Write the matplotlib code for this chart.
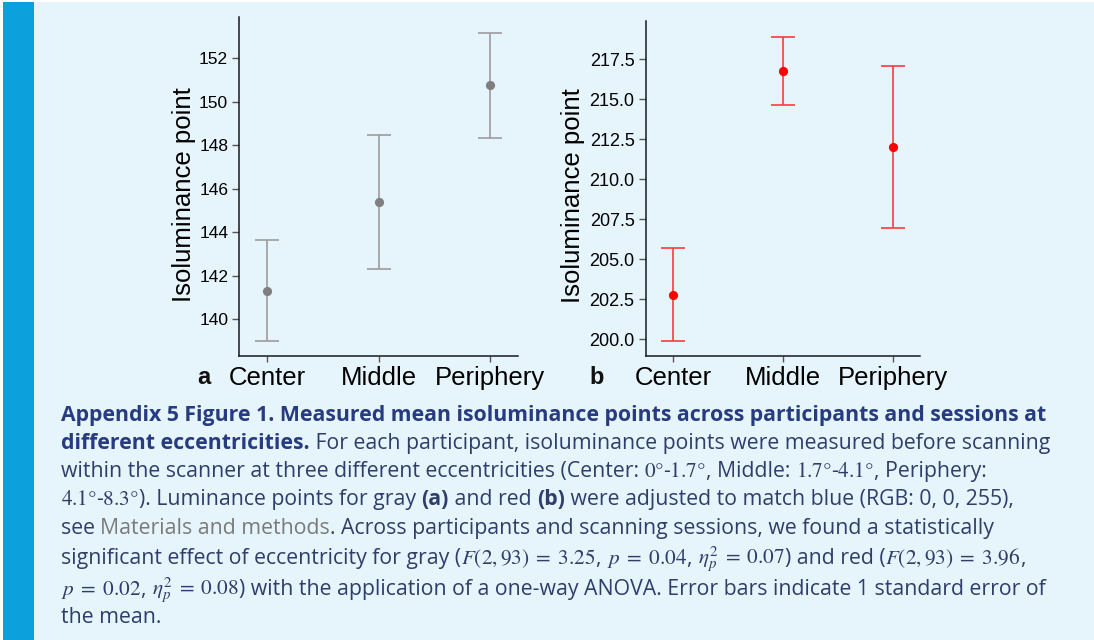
import matplotlib
matplotlib.use('Agg')
import matplotlib.pyplot as plt
from matplotlib.patches import Rectangle

# ---------------- data ----------------
categories = ['Center', 'Middle', 'Periphery']
gray_mean = [141.30, 145.38, 150.76]
gray_lo = [139.02, 142.30, 148.35]
gray_hi = [143.63, 148.47, 153.18]
red_mean = [202.77, 216.79, 212.02]
red_lo = [199.89, 214.66, 206.96]
red_hi = [205.69, 218.92, 217.07]
gray_yticks = [140, 142, 144, 146, 148, 150, 152]
red_yticks = [200.0, 202.5, 205.0, 207.5, 210.0, 212.5, 215.0, 217.5]

W, H = 1094, 640
plt.rcParams['font.family'] = ['Liberation Sans', 'DejaVu Sans']
plt.rcParams['mathtext.fontset'] = 'stix'

fig = plt.figure(figsize=(W / 100, H / 100), dpi=100, facecolor='white')
BG = '#e6f4fc'
fig.patches.append(Rectangle((3 / W, 0), 1, 638 / H, transform=fig.transFigure,
                             facecolor=BG, edgecolor='none', zorder=-10))
fig.patches.append(Rectangle((3 / W, 0), 31 / W, 638 / H, transform=fig.transFigure,
                             facecolor='#0ca0dc', edgecolor='none', zorder=-9))


def px_axes(l, t, r, b):
    return fig.add_axes([l / W, 1 - b / H, (r - l) / W, (b - t) / H])


def style(ax, ylim, yticks, fmt, ytick_fs, label_xy):
    ax.set_facecolor('none')
    for s in ['top', 'right']:
        ax.spines[s].set_visible(False)
    for s in ['left', 'bottom']:
        ax.spines[s].set_linewidth(1.1)
        ax.spines[s].set_color('#1a1a1a')
    ax.set_xlim(-0.25, 2.25)
    ax.set_ylim(*ylim)
    ax.set_yticks(yticks)
    ax.set_yticklabels([fmt.format(v) for v in yticks], fontsize=ytick_fs)
    ax.set_xticks(range(len(categories)))
    ax.set_xticklabels(categories, fontsize=18.5)
    ax.tick_params(axis='y', length=5, width=1.0, color='#555555', pad=3)
    ax.tick_params(axis='x', length=4.5, width=1.0, color='#555555', pad=3)
    ax.set_ylabel('Isoluminance point', fontsize=18.5)
    ax.yaxis.set_label_coords(*label_xy)


def draw(ax, mean, lo, hi, lc, mc):
    x = list(range(len(mean)))
    yerr = [[m - l for m, l in zip(mean, lo)], [h - m for m, h in zip(mean, hi)]]
    ax.errorbar(x, mean, yerr=yerr, fmt='none', ecolor=lc, elinewidth=1.2,
                capsize=8.7, capthick=1.2)
    ax.plot(x, mean, 'o', color=mc, markersize=6.6, markeredgewidth=0, zorder=5)


axa = px_axes(239.3, 16.7, 518.3, 356)
draw(axa, gray_mean, gray_lo, gray_hi, '#9c9c9c', '#7f7f7f')
style(axa, (138.31, 153.91), gray_yticks, '{:d}', 12.5, (-0.155, 0.475))

axb = px_axes(645.7, 21, 920, 356)
draw(axb, red_mean, red_lo, red_hi, '#ff3b3b', '#ff0000')
style(axb, (198.94, 219.9), red_yticks, '{:.1f}', 13, (-0.221, 0.48))

fig.text(197 / W, 1 - 384 / H, 'a', fontsize=17, fontweight='bold', color='#111111')
fig.text(589 / W, 1 - 384 / H, 'b', fontsize=17, fontweight='bold', color='#111111')

# ---------------- caption ----------------
CAP_FONT = ['Open Sans', 'Noto Sans', 'DejaVu Sans']
FS = 15.3
BOLD_C = '#273b81'
BODY_C = '#2f3d6b'
LINK_C = '#7a7a7a'

B = dict(fontweight='bold', color=BOLD_C)
N = dict(color=BODY_C)
L = dict(color=LINK_C)
NB = dict(fontweight='bold', color=BODY_C)

lines = [
    (421, [('Appendix 5 Figure 1. Measured mean isoluminance points across participants and sessions at', B)]),
    (449, [('different eccentricities.', B), (' For each participant, isoluminance points were measured before scanning', N)]),
    (477, [('within the scanner at three different eccentricities (Center: ', N), ('$0°$-$1.7°$', N),
           (', Middle: ', N), ('$1.7°$-$4.1°$', N), (', Periphery:', N)]),
    (505, [('$4.1°$-$8.3°$', N), ('). Luminance points for gray ', N), ('(a)', NB), (' and red ', N), ('(b)', NB),
           (' were adjusted to match blue (RGB: 0, 0, 255),', N)]),
    (534, [('see ', N), ('Materials and methods', L), ('. Across participants and scanning sessions, we found a statistically', N)]),
    (564, [('significant effect of eccentricity for gray (', N), ('$F(2,93)\\;=\\;3.25$', N), (', ', N),
           ('$p\\;=\\;0.04$', N), (', ', N), ('$\\eta_p^2\\;=\\;0.07$', N), (') and red (', N),
           ('$F(2,93)\\;=\\;3.96$', N), (',', N)]),
    (595, [('$p\\;=\\;0.02$', N), (', ', N), ('$\\eta_p^2\\;=\\;0.08$', N),
           (') with the application of a one-way ANOVA. Error bars indicate 1 standard error of', N)]),
    (623, [('the mean.', N)]),
]

renderer = fig.canvas.get_renderer()


def run_width(s, props):
    t1 = fig.text(0, 0, '|' + s + '|' if '$' not in s else s, fontsize=FS, family=CAP_FONT, **props)
    w = t1.get_window_extent(renderer).width
    t1.remove()
    if '$' not in s:
        t2 = fig.text(0, 0, '||', fontsize=FS, family=CAP_FONT, **props)
        w -= t2.get_window_extent(renderer).width
        t2.remove()
    return w


for y, runs in lines:
    x = 61
    for s, props in runs:
        fig.text(x / W, 1 - y / H, s, fontsize=FS, family=CAP_FONT, va='baseline', ha='left', **props)
        x += run_width(s, props)

fig.savefig('out.png', dpi=100, facecolor='white')
